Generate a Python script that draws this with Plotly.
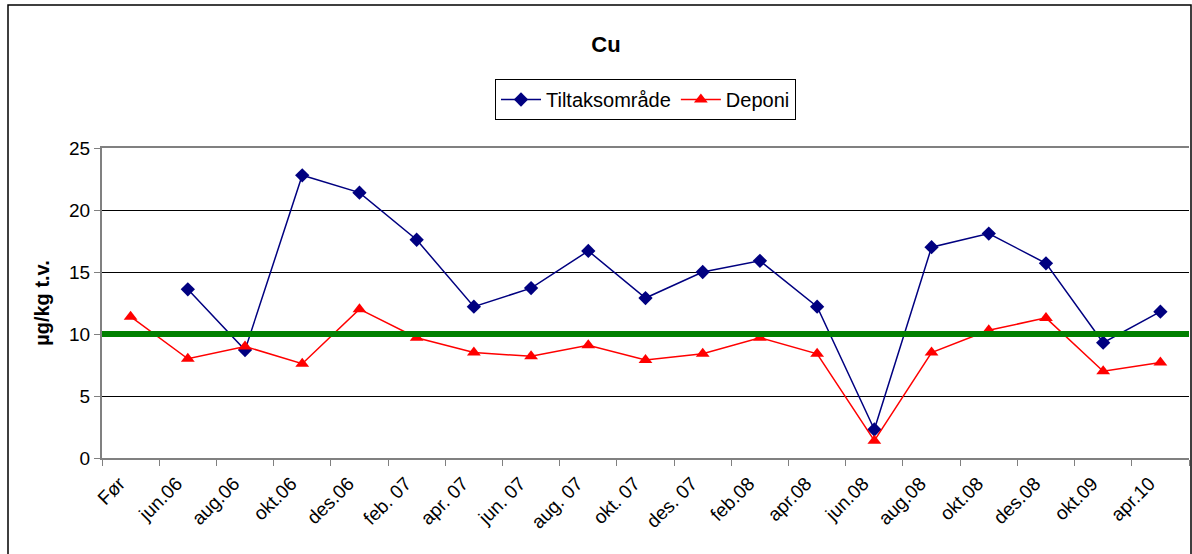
import plotly.graph_objects as go

categories = ["Før", "jun.06", "aug.06", "okt.06", "des.06", "feb. 07", "apr. 07", "jun. 07",
              "aug. 07", "okt. 07", "des. 07", "feb.08", "apr.08", "jun.08", "aug.08", "okt.08",
              "des.08", "okt.09", "apr.10"]
tiltak = [None, 13.6, 8.7, 22.8, 21.4, 17.6, 12.2, 13.7, 16.7, 12.9, 15.0, 15.9, 12.2, 2.3,
          17.0, 18.1, 15.7, 9.3, 11.8]
deponi = [11.4, 8.0, 9.0, 7.6, 12.0, 9.7, 8.5, 8.2, 9.1, 7.9, 8.4, 9.7, 8.4, 1.4,
          8.5, 10.3, 11.3, 7.0, 7.7]
limit = 10

FONT = "Liberation Sans, Arial, sans-serif"

fig = go.Figure()
fig.add_trace(go.Scatter(x=categories, y=tiltak, name="Tiltaksområde", mode="lines+markers",
                         line=dict(color="#000080", width=1.5),
                         marker=dict(symbol="diamond", size=11, color="#000080"),
                         connectgaps=False))
fig.add_trace(go.Scatter(x=categories, y=deponi, name="Deponi", mode="lines+markers",
                         line=dict(color="#FF0000", width=1.5),
                         marker=dict(symbol="triangle-up", size=12, color="#FF0000")))

# horizontal limit line across the plot
fig.add_shape(type="line", xref="paper", yref="y", x0=0, x1=1, y0=limit, y1=limit,
              line=dict(color="#008000", width=6), layer="above")

L, R, T, B = 102, 3, 148, 96
W, H = 1192, 554
pw, ph = W - L - R, H - T - B
def px(x):
    return (x - L) / pw
def py(y):
    return (H - B - y) / ph

# outer chart border
fig.add_shape(type="rect", xref="paper", yref="paper",
              x0=px(8), x1=px(1191), y0=py(600), y1=py(5),
              line=dict(color="black", width=1.5), layer="below")

fig.update_layout(
    width=W, height=H,
    margin=dict(l=L, r=R, t=T, b=B),
    paper_bgcolor="white", plot_bgcolor="white",
    font=dict(family=FONT, size=19, color="black"),
    title=dict(text="<b>Cu</b>", x=606 / W, xanchor="center", y=1 - 44 / H, yanchor="middle",
               font=dict(size=22, family=FONT)),
    legend=dict(orientation="h", x=0.5, xanchor="center", y=py(79), yanchor="top",
                bordercolor="black", borderwidth=1, font=dict(size=20, family=FONT),
                itemwidth=40, tracegroupgap=0),
    showlegend=True,
)
fig.update_xaxes(type="category", tickangle=-45, tickson="boundaries", ticks="outside",
                 ticklen=6, tickcolor="#808080", showline=True, linecolor="#808080", linewidth=2,
                 mirror=True, showgrid=False, tickfont=dict(size=19, family=FONT),
                 range=[-0.5, 18.5], ticklabelstandoff=5, ticklabelshift=-11)
fig.update_yaxes(range=[0, 25], dtick=5, ticks="outside", ticklen=6, tickcolor="#808080",
                 showline=True, linecolor="#808080", linewidth=2, showgrid=True,
                 gridcolor="black", gridwidth=1, zeroline=False,
                 tickfont=dict(size=19, family=FONT),
                 title=dict(text="<b>µg/kg t.v.</b>", font=dict(size=20, family=FONT), standoff=14))

fig.write_html("out.html", config={"displayModeBar": False})
with open("out.html", encoding="utf-8") as f:
    html = f.read()
html = html.replace("<body>", '<body style="margin:0;overflow:hidden">', 1)
with open("out.html", "w", encoding="utf-8") as f:
    f.write(html)
